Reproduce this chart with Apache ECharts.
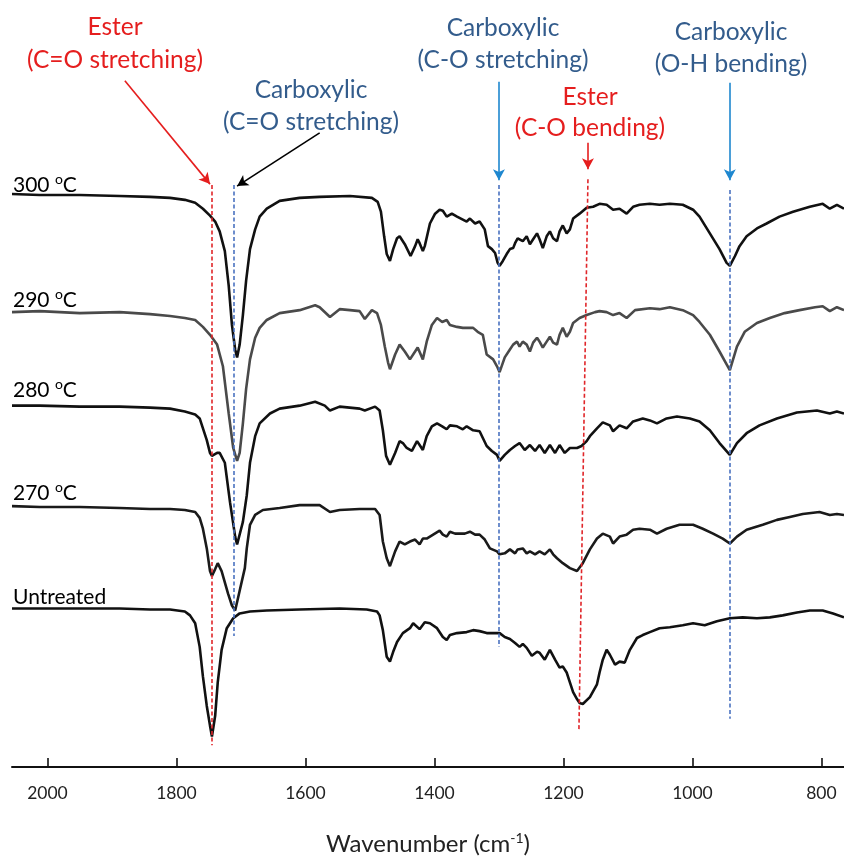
<!DOCTYPE html>
<html><head><meta charset="utf-8">
<script src="https://cdn.jsdelivr.net/npm/echarts@6/dist/echarts.min.js"></script>
<style>html,body{margin:0;padding:0;background:#fff}#c{width:844px;height:861px}</style>
</head><body><div id="c"></div>
<script>
// x: wavenumber (cm-1), y: offset transmittance (a.u.)
const xTicks = [2000, 1800, 1600, 1400, 1200, 1000, 800];

const spec300 = [[2055,582],[2012,581],[1950,581],[1888,580],[1841,579],[1810,578],[1787,576],[1771,573],[1759,567],[1748,560],[1740,554],[1733,544],[1725,524],[1719,489],[1714,449],[1709,424],[1706,416],[1702,429],[1697,459],[1692,494],[1686,526],[1678,546],[1671,559],[1660,567],[1640,575],[1609,578],[1578,579],[1531,580],[1497,578],[1488,574],[1483,564],[1478,539],[1474,521],[1469,514],[1464,526],[1458,537],[1454,539],[1446,531],[1437,519],[1430,529],[1426,536],[1423,532],[1418,524],[1415,529],[1407,552],[1399,562],[1392,566],[1387,565],[1381,559],[1373,562],[1365,559],[1356,556],[1350,554],[1345,557],[1337,552],[1330,554],[1322,546],[1317,529],[1311,526],[1306,522],[1302,512],[1299,509],[1294,514],[1288,521],[1283,526],[1278,527],[1275,532],[1271,537],[1268,539],[1263,534],[1257,539],[1252,531],[1247,536],[1241,542],[1237,536],[1232,527],[1226,539],[1221,544],[1216,537],[1210,534],[1206,544],[1201,550],[1195,542],[1190,546],[1185,557],[1175,562],[1164,568],[1154,569],[1144,572],[1133,571],[1123,566],[1113,567],[1102,562],[1092,569],[1082,571],[1066,572],[1051,571],[1035,572],[1015,571],[999,566],[989,559],[973,542],[958,526],[947,512],[942,509],[934,519],[927,529],[916,539],[900,547],[885,552],[865,559],[844,564],[818,569],[798,572],[787,567],[776,571],[765,567]];

const spec290 = [[2055,462],[2012,463],[1950,461],[1888,462],[1841,460],[1810,458],[1787,456],[1771,454],[1759,447],[1748,439],[1737,429],[1728,407],[1719,359],[1712,324],[1706,311],[1702,319],[1697,349],[1692,384],[1686,414],[1678,436],[1671,446],[1660,454],[1640,461],[1609,464],[1585,469],[1578,467],[1562,457],[1547,465],[1531,464],[1516,463],[1508,455],[1497,464],[1489,461],[1483,449],[1477,427],[1472,411],[1469,404],[1461,419],[1454,429],[1446,422],[1438,414],[1430,422],[1426,426],[1418,414],[1412,432],[1404,449],[1396,456],[1388,452],[1381,454],[1376,449],[1365,447],[1356,446],[1340,446],[1333,442],[1325,439],[1319,419],[1309,414],[1303,407],[1299,401],[1291,416],[1283,424],[1278,429],[1272,432],[1268,427],[1263,432],[1257,429],[1252,422],[1247,431],[1241,436],[1237,432],[1232,426],[1226,432],[1221,437],[1216,431],[1210,429],[1206,439],[1201,446],[1195,437],[1190,442],[1185,451],[1175,456],[1164,459],[1151,462],[1144,463],[1133,462],[1123,459],[1113,461],[1102,456],[1089,464],[1066,466],[1051,465],[1035,467],[1015,464],[999,459],[989,452],[973,439],[958,422],[947,409],[942,403],[931,427],[919,442],[900,451],[880,456],[857,461],[834,464],[810,467],[798,468],[787,463],[776,467],[765,464]];

const spec280 = [[2055,367],[2012,367],[1950,366],[1888,366],[1841,365],[1810,364],[1787,361],[1771,358],[1764,354],[1753,332],[1748,319],[1745,316],[1737,319],[1733,319],[1725,309],[1717,269],[1709,234],[1706,226],[1697,249],[1691,276],[1686,309],[1678,336],[1671,349],[1655,359],[1640,364],[1609,367],[1585,371],[1570,367],[1562,362],[1547,366],[1516,364],[1508,362],[1492,366],[1485,362],[1480,342],[1475,316],[1469,307],[1461,319],[1454,331],[1449,329],[1443,324],[1435,321],[1427,331],[1423,327],[1418,322],[1412,336],[1404,346],[1396,349],[1388,346],[1381,343],[1376,347],[1365,346],[1356,343],[1350,346],[1340,342],[1330,341],[1319,326],[1311,321],[1303,317],[1299,311],[1291,317],[1283,322],[1275,326],[1268,329],[1260,322],[1252,327],[1244,321],[1237,327],[1229,319],[1221,327],[1213,319],[1206,327],[1198,319],[1190,324],[1179,324],[1172,326],[1164,331],[1159,336],[1148,344],[1139,350],[1128,347],[1123,341],[1113,347],[1102,344],[1092,351],[1077,354],[1066,352],[1055,349],[1040,354],[1024,356],[1004,354],[989,351],[973,342],[958,329],[942,317],[931,329],[916,339],[896,347],[869,354],[838,360],[807,362],[787,359],[776,361],[765,359]];

const spec270 = [[2055,265],[2012,264],[1950,264],[1888,263],[1841,262],[1810,262],[1787,261],[1771,259],[1764,253],[1759,242],[1753,222],[1748,199],[1745,194],[1740,201],[1736,207],[1730,199],[1720,176],[1714,164],[1709,159],[1702,179],[1694,202],[1691,222],[1686,246],[1678,256],[1666,261],[1640,263],[1609,266],[1578,266],[1562,259],[1547,261],[1516,262],[1492,262],[1485,256],[1480,229],[1474,212],[1469,204],[1461,219],[1454,229],[1446,226],[1438,229],[1430,231],[1423,226],[1418,232],[1412,232],[1402,236],[1392,240],[1387,236],[1381,234],[1376,239],[1368,237],[1353,237],[1345,239],[1337,236],[1330,236],[1322,231],[1314,222],[1303,219],[1299,216],[1291,217],[1283,221],[1275,217],[1271,221],[1263,222],[1257,217],[1252,219],[1244,216],[1237,219],[1229,216],[1221,221],[1216,216],[1210,212],[1201,207],[1190,202],[1179,199],[1170,207],[1159,221],[1148,232],[1139,237],[1128,234],[1123,227],[1113,234],[1102,236],[1092,241],[1082,242],[1066,241],[1055,237],[1040,242],[1020,246],[999,246],[984,242],[968,237],[953,232],[942,227],[931,234],[916,241],[891,246],[869,251],[849,254],[829,257],[803,259],[787,256],[776,257],[765,256]];

const specUntreated = [[2055,161],[2012,161],[1950,161],[1888,161],[1841,160],[1810,160],[1787,158],[1779,154],[1771,146],[1764,122],[1759,92],[1753,62],[1748,42],[1745,31],[1740,52],[1736,86],[1730,119],[1722,141],[1712,151],[1702,156],[1686,158],[1660,159],[1609,160],[1547,161],[1505,160],[1489,158],[1485,154],[1480,139],[1474,112],[1469,107],[1464,117],[1458,127],[1449,136],[1438,141],[1433,146],[1423,140],[1415,147],[1407,146],[1396,141],[1387,132],[1381,129],[1376,134],[1365,136],[1350,137],[1340,139],[1330,138],[1319,136],[1309,136],[1299,136],[1291,132],[1283,130],[1275,126],[1268,122],[1263,125],[1257,121],[1249,113],[1241,117],[1237,116],[1229,109],[1221,119],[1213,109],[1206,101],[1201,102],[1195,96],[1190,86],[1185,76],[1179,69],[1175,65],[1170,64],[1159,71],[1148,84],[1144,96],[1139,109],[1133,119],[1128,114],[1120,104],[1113,107],[1105,106],[1097,119],[1086,131],[1077,134],[1066,137],[1051,141],[1035,142],[1015,144],[999,146],[981,144],[962,148],[942,151],[922,152],[900,151],[880,152],[860,154],[838,157],[818,159],[798,159],[782,156],[765,152]];

const seriesNames = ['300 °C', '290 °C', '280 °C', '270 °C', 'Untreated'];

// assignment guide lines: [wnTop, yTop, wnBottom, yBottom, kind]
const guideLines = [
  [1746, 591, 1746, 22, 'ester'],
  [1711, 591, 1711, 133, 'carboxylic'],
  [1300, 591, 1300, 122, 'carboxylic'],
  [1162, 597, 1176, 37, 'ester'],
  [942, 586, 942, 49, 'carboxylic']
];
// pointer arrows: [wnStart, yStart, wnEnd, yEnd, kind]
const pointerArrows = [
  [1880, 697, 1748, 592, 'ester'],
  [1578, 644, 1706, 590, 'black'],
  [1300, 696, 1300, 596, 'blue'],
  [1162, 634, 1162, 607, 'ester'],
  [942, 695, 942, 596, 'blue']
];
</script>
<script>
const FONT = 'Lato, "Liberation Sans", sans-serif';
const RED = '#E51E1E', NAVY = '#335C8C', ABLUE = '#1E87CF', DBLUE = '#4A72C0', DRED = '#E0262A';
const chart = echarts.init(document.getElementById('c'), null, {renderer: 'canvas'});
const specs = [spec300, spec290, spec280, spec270, specUntreated];
const lineColors = ['#111', '#4a4a4a', '#111', '#1a1a1a', '#111'];

const markData = [];
guideLines.forEach(g => {
  const col = g[4] === 'ester' ? DRED : DBLUE;
  markData.push([
    {coord: [g[0], g[1]], symbol: 'none', lineStyle: {color: col, type: [4, 2.5], width: 1.6}},
    {coord: [g[2], g[3]], symbol: 'none'}
  ]);
});
pointerArrows.forEach(a => {
  const col = a[4] === 'ester' ? RED : (a[4] === 'blue' ? ABLUE : '#000');
  markData.push([
    {coord: [a[0], a[1]], symbol: 'none', lineStyle: {color: col, type: 'solid', width: 1.6}, itemStyle: {color: col}},
    {coord: [a[2], a[3]], symbol: 'arrow', symbolSize: [9, 11], itemStyle: {color: col}}
  ]);
});

const series = specs.map((d, i) => ({
  name: seriesNames[i], type: 'line', data: d, showSymbol: false, symbol: 'none',
  lineStyle: {color: lineColors[i], width: 2.6}, itemStyle: {color: lineColors[i]},
  z: 2, silent: true
}));
series[4].markLine = {
  silent: true, symbol: ['none', 'none'], label: {show: false},
  emphasis: {disabled: true}, animation: false, data: markData
};

const supRich = {
  n: {fontSize: 21, fontFamily: FONT, color: '#111', lineHeight: 26},
  s: {fontSize: 14, fontFamily: FONT, color: '#111', verticalAlign: 'top', lineHeight: 26}
};
const labelY = [185, 300, 390, 493, 597];
const labelTexts = ['{n|300 }{s|o}{n|C}', '{n|290 }{s|o}{n|C}', '{n|280 }{s|o}{n|C}', '{n|270 }{s|o}{n|C}', '{n|Untreated}'];

function txt(x, y, text, color) {
  return {type: 'text', x: x, y: y, silent: true,
    style: {text: text, fill: color, fontSize: 24.5, fontFamily: FONT, align: 'center', verticalAlign: 'middle'}};
}
const graphics = [
  txt(115, 27, 'Ester', RED), txt(115, 60, '(C=O stretching)', RED),
  txt(311, 90, 'Carboxylic', NAVY), txt(311, 122, '(C=O stretching)', NAVY),
  txt(503, 28, 'Carboxylic', NAVY), txt(503, 60, '(C-O stretching)', NAVY),
  txt(590, 97, 'Ester', RED), txt(590, 128, '(C-O bending)', RED),
  txt(731, 32, 'Carboxylic', NAVY), txt(731, 64, '(O-H bending)', NAVY)
];
labelTexts.forEach((t, i) => graphics.push({
  type: 'text', x: 13, y: labelY[i], silent: true,
  style: {text: t, rich: supRich, align: 'left', verticalAlign: 'middle'}
}));

chart.setOption({
  animation: false,
  backgroundColor: '#fff',
  grid: {left: 12, right: 0, top: 0, bottom: 82},
  xAxis: {
    type: 'value', min: 765, max: 2055, inverse: true,
    axisLine: {lineStyle: {color: '#111', width: 2}},
    axisTick: {inside: true, length: 9, lineStyle: {color: '#111', width: 1.6}, customValues: xTicks},
    axisLabel: {customValues: xTicks, margin: 17, fontSize: 17.5, color: '#222', fontFamily: FONT,
      formatter: v => String(v)},
    splitLine: {show: false},
    name: 'Wavenumber (cm{sup|-1})', nameLocation: 'middle', nameGap: 64,
    nameTextStyle: {fontSize: 24, fontFamily: FONT, color: '#222',
      rich: {sup: {fontSize: 14, fontFamily: FONT, color: '#222', verticalAlign: 'top', lineHeight: 26}}}
  },
  yAxis: {type: 'value', min: 0, max: 779, show: false},
  series: series,
  graphic: graphics
});
</script>
</body></html>
